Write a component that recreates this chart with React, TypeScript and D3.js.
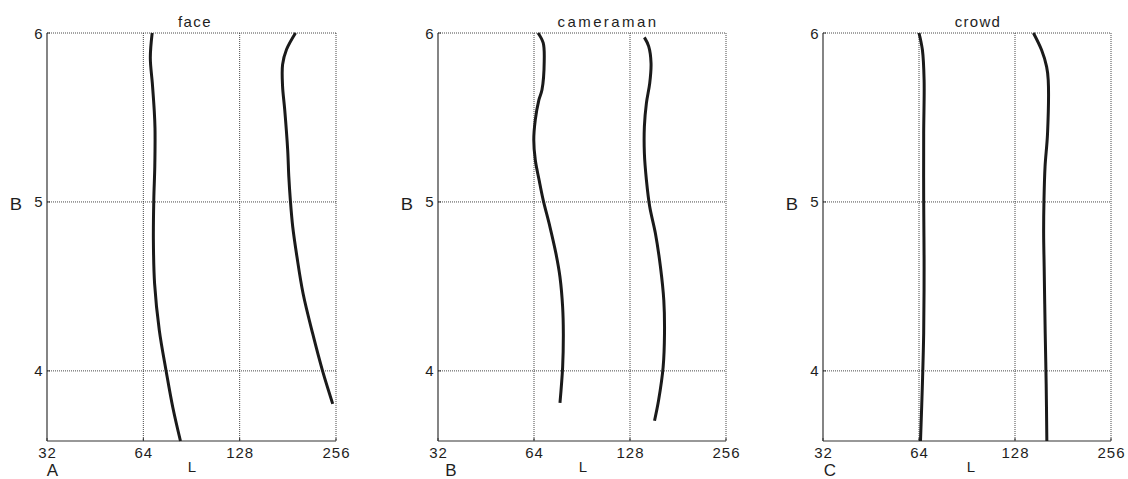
import React from "react";
import * as d3 from "d3";

// ---- data ----
const titles = ["face", "cameraman", "crowd"];
const panelLetters = ["A", "B", "C"];
const xTicks = [32, 64, 128, 256];
const yTicks = [4, 5, 6];

// face
const faceLeftB = [6, 5.853, 5.7, 5.546, 5.437, 5.21, 5.012, 4.775, 4.517, 4.24, 4.0, 3.785, 3.585];
const faceLeftL = [68.2, 67.3, 68.3, 69.2, 69.6, 69.5, 69.0, 68.8, 69.4, 71.8, 75.4, 79.1, 83.6];
const faceRightB = [6, 5.902, 5.813, 5.684, 5.546, 5.309, 5.15, 5.012, 4.853, 4.675, 4.458, 4.22, 4.0, 3.805];
const faceRightL = [191.3, 179.3, 174.3, 174.3, 177.0, 180.8, 182.3, 184.3, 187.5, 193.3, 202.0, 216.5, 232.4, 250.0];

// cameraman
const camLeftB = [6, 5.941, 5.832, 5.664, 5.604, 5.486, 5.367, 5.248, 5.13, 5.011, 4.853, 4.694, 4.556, 4.378, 4.22, 4.022, 3.81];
const camLeftL = [65.9, 68.4, 68.9, 67.8, 66.3, 64.6, 63.9, 64.6, 66.4, 68.4, 71.8, 75.0, 77.2, 78.7, 79.1, 78.7, 77.2];
const camRightB = [5.974, 5.921, 5.822, 5.703, 5.585, 5.446, 5.288, 5.13, 4.971, 4.813, 4.615, 4.417, 4.22, 4.022, 3.824, 3.705];
const camRightL = [142.0, 146.5, 149.0, 147.6, 144.1, 142.0, 142.0, 144.1, 147.6, 153.8, 159.5, 163.4, 164.2, 162.6, 157.3, 152.8];

// crowd
const crowdLeftB = [6, 5.899, 5.722, 5.406, 5.011, 4.616, 4.221, 3.925, 3.585];
const crowdLeftL = [64.0, 65.6, 66.4, 66.2, 66.2, 66.4, 66.2, 65.6, 64.7];
const crowdRightB = [6, 5.899, 5.801, 5.722, 5.406, 5.208, 5.011, 4.814, 4.616, 4.221, 3.925, 3.585];
const crowdRightL = [146.2, 155.1, 160.8, 162.7, 161.9, 159.0, 157.8, 157.4, 158.0, 159.2, 160.3, 161.1];

const panelCurves = [
  [[faceLeftB, faceLeftL], [faceRightB, faceRightL]],
  [[camLeftB, camLeftL], [camRightB, camRightL]],
  [[crowdLeftB, crowdLeftL], [crowdRightB, crowdRightL]],
];

// ---- layout ----
const W = 1128;
const H = 479;
const panelLeft = [47, 438, 823];
const panelRight = [336, 726, 1111];
const top = 33;
const bottom = 441;
const titleX = [195, 608, 978];
const titleSpacing = [1.4, 2.4, 1.3];
const lLabelX = [192, 583, 971];
const letterX = [52.5, 451, 830];
const yDomain: [number, number] = [3.585, 6];
const font = "Arial, 'Liberation Sans', Helvetica, sans-serif";
const ink = "#1e1e1e";

function Panel({ i }: { i: number }) {
  const x = d3.scaleLog().base(2).domain([32, 256]).range([panelLeft[i], panelRight[i]]);
  const y = d3.scaleLinear().domain(yDomain).range([bottom, top]);
  const line = d3
    .line<[number, number]>()
    .x((d) => x(d[1]))
    .y((d) => y(d[0]))
    .curve(d3.curveCatmullRom.alpha(0.5));
  const l = panelLeft[i];
  const r = panelRight[i];
  const grid = "#333";
  return (
    <g>
      <text x={titleX[i]} y={26.5} textAnchor="middle" fontSize={15} letterSpacing={titleSpacing[i]} fontFamily={font} fill={ink}>
        {titles[i]}
      </text>
      {/* dotted grid */}
      {xTicks.slice(1).map((t) => (
        <line key={"gx" + t} x1={x(t)} x2={x(t)} y1={top} y2={bottom} stroke={grid} strokeWidth={0.9} strokeDasharray="1,1" />
      ))}
      {yTicks.map((t) => (
        <line key={"gy" + t} x1={l} x2={r} y1={y(t)} y2={y(t)} stroke={grid} strokeWidth={0.9} strokeDasharray="1,1" />
      ))}
      {/* axes */}
      <line x1={l} x2={l} y1={top} y2={bottom} stroke="#333" strokeWidth={1.2} />
      <line x1={l} x2={r} y1={bottom} y2={bottom} stroke="#333" strokeWidth={1.2} />
      {yTicks.map((t) => (
        <line key={"ty" + t} x1={l} x2={l + 3} y1={y(t)} y2={y(t)} stroke="#333" strokeWidth={1} />
      ))}
      {xTicks.map((t) => (
        <line key={"tx" + t} x1={x(t)} x2={x(t)} y1={bottom} y2={bottom - 3} stroke="#333" strokeWidth={1} />
      ))}
      {/* curves */}
      {panelCurves[i].map(([bs, ls], k) => (
        <path
          key={k}
          d={line(bs.map((b, j) => [b, ls[j]] as [number, number])) || ""}
          fill="none"
          stroke="#1a1a1a"
          strokeWidth={3}
          strokeLinecap="butt"
          strokeLinejoin="round"
        />
      ))}
      {/* tick labels */}
      {yTicks.map((t) => (
        <text key={"ly" + t} x={l - 4} y={y(t) + 5.5} textAnchor="end" fontSize={15} letterSpacing={0.4} fontFamily={font} fill={ink}>
          {t}
        </text>
      ))}
      {xTicks.map((t) => (
        <text key={"lx" + t} x={x(t) + 0.5} y={457.5} textAnchor="middle" fontSize={15} letterSpacing={1} fontFamily={font} fill={ink}>
          {t}
        </text>
      ))}
      <text x={l - 31} y={210.5} textAnchor="middle" fontSize={16} fontFamily={font} fill={ink} transform={`translate(${l - 31},0) scale(1.15,1) translate(${-(l - 31)},0)`}>
        B
      </text>
      <text x={lLabelX[i]} y={472} textAnchor="middle" fontSize={15} fontFamily={font} fill={ink}>
        L
      </text>
      <text x={letterX[i]} y={476} textAnchor="middle" fontSize={17} fontFamily={font} fill={ink}>
        {panelLetters[i]}
      </text>
    </g>
  );
}

export default function App() {
  return (
    <svg width={W} height={H} style={{ position: "absolute", left: 0, top: 0, background: "#fff" }}>
      <rect x={0} y={0} width={W} height={H} fill="#fff" />
      {[0, 1, 2].map((i) => (
        <Panel key={i} i={i} />
      ))}
    </svg>
  );
}
